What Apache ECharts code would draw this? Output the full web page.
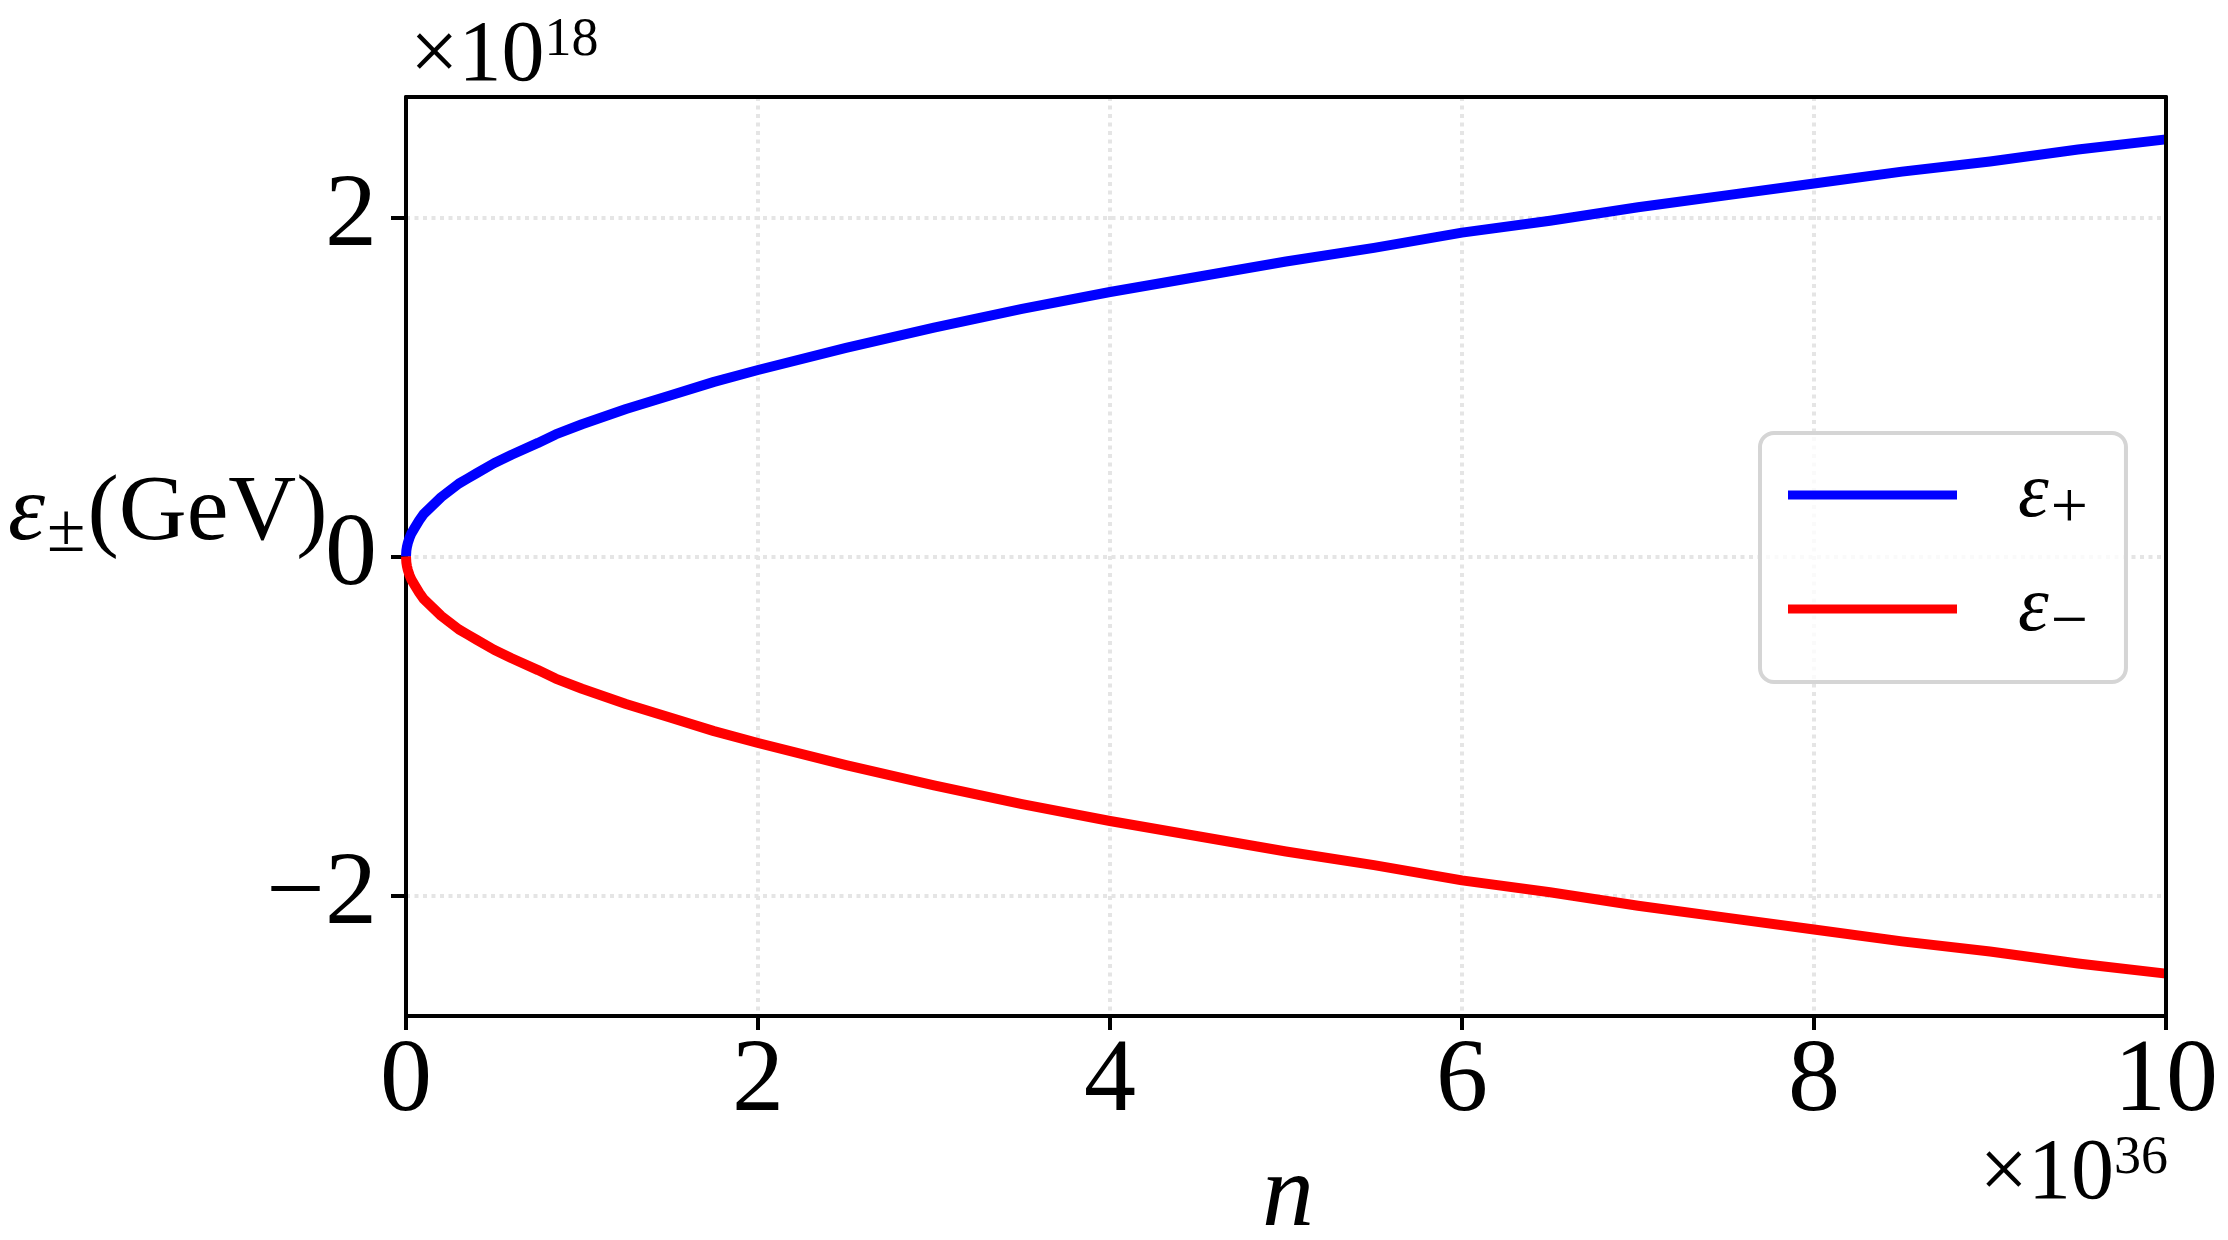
<!DOCTYPE html>
<html>
<head>
<meta charset="utf-8">
<script src="https://cdn.jsdelivr.net/npm/echarts@6/dist/echarts.min.js"></script>
<style>
  html, body { margin: 0; padding: 0; background: #fff; }
  #chart { width: 2228px; height: 1240px; }
</style>
</head>
<body>
<div id="chart"></div>
<script>
// n in units of 1e36, energies in units of 1e18 GeV
const nValues = [0, 0.002, 0.005, 0.01, 0.02, 0.03, 0.05, 0.075, 0.1, 0.15, 0.2, 0.25, 0.3, 0.35, 0.4, 0.5, 0.6, 0.75, 0.85, 1, 1.25, 1.5, 1.75, 2, 2.5, 3, 3.5, 4, 4.5, 5, 5.5, 6, 6.5, 7, 7.5, 8, 8.5, 9, 9.5, 10];
const epsPlus = [0, 0.035, 0.055, 0.078, 0.11, 0.135, 0.17, 0.213, 0.25, 0.30, 0.35, 0.39, 0.43, 0.46, 0.49, 0.55, 0.60, 0.67, 0.72, 0.78, 0.87, 0.95, 1.03, 1.10, 1.23, 1.35, 1.46, 1.56, 1.65, 1.74, 1.82, 1.91, 1.98, 2.06, 2.13, 2.20, 2.27, 2.33, 2.40, 2.46];
const epsMinus = [0, -0.035, -0.055, -0.078, -0.11, -0.135, -0.17, -0.213, -0.25, -0.30, -0.35, -0.39, -0.43, -0.46, -0.49, -0.55, -0.60, -0.67, -0.72, -0.78, -0.87, -0.95, -1.03, -1.10, -1.23, -1.35, -1.46, -1.56, -1.65, -1.74, -1.82, -1.91, -1.98, -2.06, -2.13, -2.20, -2.27, -2.33, -2.40, -2.46];
const yTicks = [-2, 0, 2];
const seriesNames = ['ε+', 'ε−'];

const FONT = 'Liberation Serif';
const Y_MIN = -2.71, Y_MAX = 2.71;

const chart = echarts.init(document.getElementById('chart'));

// frame-only axis (top / right sides of the box)
function frameAxis (pos, extra) {
  return Object.assign({
    type: 'value',
    position: pos,
    z: 5,
    axisLine: { show: true, onZero: false, lineStyle: { color: '#000', width: 4 } },
    axisTick: { show: false },
    axisLabel: { show: false },
    splitLine: { show: false }
  }, extra);
}

const gridLine = { show: true, lineStyle: { color: '#e5e5e5', width: 4, type: [4, 4.5] } };

chart.setOption({
  animation: false,
  backgroundColor: '#fff',
  grid: {
    left: 406,
    top: 97,
    width: 1760,
    height: 919
  },
  legend: {
    orient: 'vertical',
    left: 1760,
    top: 433,
    padding: [14, 38, 25, 28],
    itemWidth: 169,
    itemHeight: 9,
    itemGap: 18,
    icon: 'rect',
    selectedMode: false,
    backgroundColor: 'rgba(255,255,255,0.8)',
    borderColor: '#d5d5d5',
    borderWidth: 4,
    borderRadius: 14,
    data: seriesNames,
    formatter: function (name) {
      return '{e|ε}{s|' + name.slice(1) + '}';
    },
    textStyle: {
      padding: [0, 0, 0, 56],
      rich: {
        e: { fontFamily: FONT, fontStyle: 'italic', fontSize: 78, lineHeight: 78, color: '#000', verticalAlign: 'middle' },
        s: { fontFamily: FONT, fontSize: 66, lineHeight: 40, padding: [30, 0, 0, 2], color: '#000', verticalAlign: 'middle' }
      }
    }
  },
  xAxis: [
    {
      type: 'value',
      min: 0,
      max: 10,
      interval: 2,
      axisLine: { show: true, onZero: false, lineStyle: { color: '#000', width: 4 } },
      axisTick: { show: true, length: 14, lineStyle: { color: '#000', width: 4 } },
      axisLabel: { fontFamily: FONT, fontSize: 104, color: '#000', margin: 15 },
      splitLine: gridLine
    },
    frameAxis('top', { min: 0, max: 10 })
  ],
  yAxis: [
    {
      type: 'value',
      min: Y_MIN,
      max: Y_MAX,
      axisLine: { show: true, onZero: false, lineStyle: { color: '#000', width: 4 } },
      axisTick: { show: true, length: 15, customValues: yTicks, lineStyle: { color: '#000', width: 4 } },
      axisLabel: {
        fontFamily: FONT, fontSize: 104, color: '#000', margin: 29,
        customValues: yTicks,
        formatter: function (v) { return v < 0 ? '\u2212' + Math.abs(v) : String(v); }
      },
      splitLine: gridLine
    },
    frameAxis('right', { min: Y_MIN, max: Y_MAX })
  ],
  graphic: [
    {
      type: 'text', left: 8, top: 460,
      style: {
        text: '{e|ε}{s|±}{n|(GeV)}',
        rich: {
          e: { fontFamily: FONT, fontStyle: 'italic', fontSize: 94, lineHeight: 94, fill: '#000', verticalAlign: 'middle' },
          s: { fontFamily: FONT, fontSize: 70, lineHeight: 40, padding: [38, 2, 0, 2], fill: '#000', verticalAlign: 'middle' },
          n: { fontFamily: FONT, fontSize: 94, lineHeight: 94, fill: '#000', verticalAlign: 'middle' }
        }
      }
    },
    {
      type: 'text', left: 410, top: 14,
      style: {
        text: '{b|×10}{p|18}',
        rich: {
          b: { fontFamily: FONT, fontSize: 86, lineHeight: 86, fill: '#000' },
          p: { fontFamily: FONT, fontSize: 54, lineHeight: 38, verticalAlign: 'top', fill: '#000' }
        }
      }
    },
    {
      type: 'text', right: 60, top: 1132,
      style: {
        text: '{b|×10}{p|36}',
        rich: {
          b: { fontFamily: FONT, fontSize: 86, lineHeight: 86, fill: '#000' },
          p: { fontFamily: FONT, fontSize: 54, lineHeight: 38, verticalAlign: 'top', fill: '#000' }
        }
      }
    },
    {
      type: 'text', left: 1262, top: 1146,
      style: { text: 'n', fontFamily: FONT, fontStyle: 'italic', fontSize: 104, fill: '#000' }
    }
  ],
  series: [
    {
      name: seriesNames[0],
      type: 'line',
      showSymbol: false,
      smooth: false,
      color: '#0000ff',
      lineStyle: { width: 10, color: '#0000ff', join: 'round' },
      data: nValues.map((n, i) => [n, epsPlus[i]])
    },
    {
      name: seriesNames[1],
      type: 'line',
      showSymbol: false,
      smooth: false,
      color: '#ff0000',
      lineStyle: { width: 10, color: '#ff0000', join: 'round' },
      data: nValues.map((n, i) => [n, epsMinus[i]])
    }
  ]
});
</script>
</body>
</html>
